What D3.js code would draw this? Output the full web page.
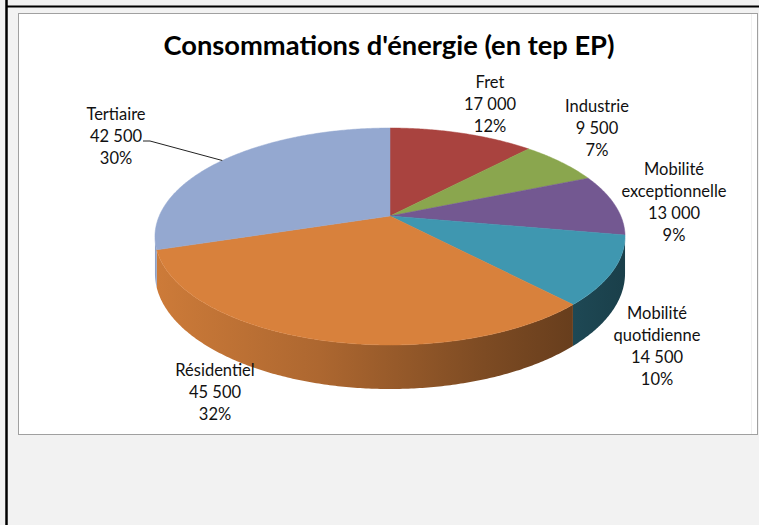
<!DOCTYPE html>
<html><head><meta charset="utf-8">
<script src="https://cdn.jsdelivr.net/npm/d3@7"></script>
<style>html,body{margin:0;padding:0;background:#f2f2f2;}svg{display:block;}</style>
</head><body>
<svg id="c" width="759" height="525"></svg>
<script>
// ---- data ----
const categories = ["Fret","Industrie","Mobilité exceptionnelle","Mobilité quotidienne","Résidentiel","Tertiaire"];
const values = [17000, 9500, 13000, 14500, 45500, 42500];
const labelLines = [["Fret"],["Industrie"],["Mobilité","exceptionnelle"],["Mobilité","quotidienne"],["Résidentiel"],["Tertiaire"]];
const title = "Consommations d'énergie (en tep EP)";

// ---- style / layout ----
const colors = ["#a9433f","#8aa64e","#735891","#3f97b0","#d8813c","#94a8d0"];
const labelAnchor = [[490,88],[597,112],[674,175],[657,319],[215,376],[116,120]];
const W = 759, H = 525;
const cx = 390, cy = 216, A = 230.8, B = 104.6, K = 0.189, DEPTH = 35.7;

const svg = d3.select("#c");
svg.append("rect").attr("width",W).attr("height",H).attr("fill","#f2f2f2");
svg.append("line").attr("x1",6.5).attr("x2",6.5).attr("y1",0).attr("y2",H).attr("stroke","#000").attr("stroke-width",2.5);
svg.append("line").attr("x1",6).attr("x2",W).attr("y1",6.5).attr("y2",6.5).attr("stroke","#000").attr("stroke-width",2);
svg.append("rect").attr("x",18.5).attr("y",13.5).attr("width",739).attr("height",421)
  .attr("fill","#fff").attr("stroke","#a0a0a0").attr("stroke-width",1);
svg.append("line").attr("x1",751.5).attr("x2",751.5).attr("y1",14).attr("y2",434).attr("stroke","#f0f0f0").attr("stroke-width",1);

svg.append("text").attr("x",389).attr("y",55).attr("text-anchor","middle")
  .attr("font-family","Lato, 'Open Sans', sans-serif").attr("font-weight","bold").attr("font-size",26)
  .attr("textLength",451).attr("lengthAdjust","spacingAndGlyphs").attr("fill","#000").text(title);

const fr = d3.formatLocale({decimal:",", thousands:"\u00a0", grouping:[3], currency:["","€"]});
const fmt = fr.format(",d");
const total = d3.sum(values);

const pie = d3.pie().sort(null).value(d=>d).startAngle(0).endAngle(2*Math.PI);
const arcs = pie(values);

function proj(t, r, down){
  const u = r*Math.sin(t), v = -r*Math.cos(t), w = 1 - K*v;
  return [cx + A*u/w, cy + (B*v + (down?DEPTH:0))/w];
}
function sample(s,e){ const n = Math.max(2, Math.ceil((e-s)/0.01)); return d3.range(n+1).map(i=>s+(e-s)*i/n); }
const line = d3.line();

const defs = svg.append("defs");
const tL = Math.acos(-K), tR = 2*Math.PI - Math.acos(-K);

// walls
arcs.forEach((a,i)=>{
  const s = Math.max(a.startAngle, tL), e = Math.min(a.endAngle, tR);
  if (e <= s) return;
  const gid = "g"+i;
  const g = defs.append("linearGradient").attr("id",gid).attr("gradientUnits","userSpaceOnUse")
    .attr("x1",cx-A*1.02).attr("x2",cx+A*1.02).attr("y1",0).attr("y2",0);
  const c = d3.color(colors[i]);
  [[0,0.95],[0.35,0.8],[0.7,0.58],[1,0.42]].forEach(([o,f])=>{
    g.append("stop").attr("offset",o).attr("stop-color", d3.rgb(c.r*f,c.g*f,c.b*f).formatHex());
  });
  const ts = sample(s,e);
  const pts = ts.map(t=>proj(t,1,false)).concat(ts.slice().reverse().map(t=>proj(t,1,true)));
  svg.append("path").attr("d", line(pts)+"Z").attr("fill","url(#"+gid+")");
});
// tops
arcs.forEach((a,i)=>{
  const pts = [proj(0,0,false)].concat(sample(a.startAngle,a.endAngle).map(t=>proj(t,1,false)));
  svg.append("path").attr("d", line(pts)+"Z").attr("fill",colors[i]).attr("stroke",colors[i]).attr("stroke-width",0.5);
});

// labels
arcs.forEach((a,i)=>{
  const lines = labelLines[i].concat([fmt(values[i]), Math.round(values[i]/total*100)+"%"]);
  const t = svg.append("text").attr("text-anchor","middle")
    .attr("font-family","Lato, sans-serif").attr("font-size",16.5).attr("fill","#111");
  lines.forEach((l,j)=>{
    t.append("tspan").attr("x",labelAnchor[i][0]).attr("y",labelAnchor[i][1]+j*22).text(l);
  });
});
// leader line for Tertiaire (to slice mid-angle on the rim)
const ti = 5;
const pEdge = proj((arcs[ti].startAngle + arcs[ti].endAngle)/2, 1.0, false);
svg.append("path").attr("d", line([[143,141],[150,141],pEdge])).attr("fill","none").attr("stroke","#222").attr("stroke-width",1);
</script>
</body></html>
